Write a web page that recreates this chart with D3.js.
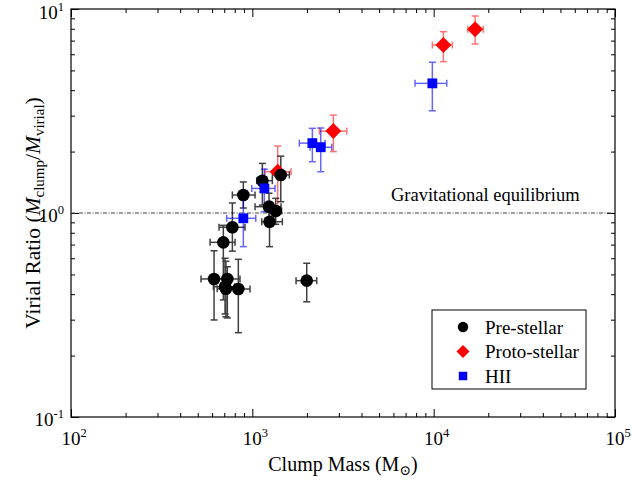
<!DOCTYPE html>
<html>
<head>
<meta charset="utf-8">
<script src="https://cdn.jsdelivr.net/npm/d3@7"></script>
<style>
  body { margin: 0; background: #fff; }
  svg text { font-family: 'Liberation Serif', 'DejaVu Serif', serif; fill: #000; }
</style>
</head>
<body>
<div id="my_dataviz"></div>
<script>

// data: clump mass (Msun) and virial ratio with error ranges
var preMass    = [1136, 892, 1236, 1346, 1244, 776, 692, 615, 728, 707, 715, 837, 1995, 1435];
var preMassLo  = [1057, 776, 1035, 1280, 1127, 655, 585, 521, 615, 610, 640, 753, 1742, 1290];
var preMassHi  = [1289, 1035, 1440, 1450, 1464, 911, 803, 725, 855, 800, 790, 971, 2265, 1600];
var preRatio   = [1.44, 1.225, 1.074, 1.023, 0.906, 0.851, 0.718, 0.475, 0.475, 0.435, 0.425, 0.424, 0.466, 1.536];
var preRatioLo = [1.094, 1.058, 0.92, 0.88, 0.684, 0.65, 0.375, 0.299, 0.306, 0.32, 0.31, 0.259, 0.367, 1.136];
var preRatioHi = [1.75, 1.42, 1.25, 1.18, 1.13, 1.12, 0.87, 0.653, 0.545, 0.60, 0.58, 0.593, 0.567, 1.90];

var protoMass    = [1380, 2797, 11312, 16920];
var protoMassLo  = [1175, 2342, 9835, 15420];
var protoMassHi  = [1635, 3317, 12680, 18800];
var protoRatio   = [1.594, 2.52, 6.66, 7.95];
var protoRatioLo = [1.03, 2.00, 5.52, 6.74];
var protoRatioHi = [2.13, 3.02, 7.74, 9.24];

var hiiMass    = [9835, 2143, 2384, 1165, 892];
var hiiMassLo  = [7895, 1816, 2081, 993, 722];
var hiiMassHi  = [11810, 2518, 2742, 1334, 1044];
var hiiRatio   = [4.32, 2.20, 2.10, 1.32, 0.942];
var hiiRatioLo = [3.17, 1.785, 1.594, 1.015, 0.684];
var hiiRatioHi = [5.48, 2.60, 2.61, 1.64, 1.19];

var xMajor = [100, 1000, 10000, 100000];
var yMajor = [0.1, 1, 10];
var xExp = ["2", "3", "4", "5"];
var yExp = ["-1", "0", "1"];
var legendNames = ["Pre-stellar", "Proto-stellar", "HII"];

var width = 632, height = 482;
var L = 71, R = 615, T = 9, B = 417;
var serif = "'Liberation Serif', 'DejaVu Serif', serif";

var svg = d3.select("#my_dataviz")
  .append("svg")
  .attr("width", width)
  .attr("height", height)
  .attr("font-family", serif)
  .style("font-family", serif);

var x = d3.scaleLog().domain([100, 100000]).range([L, R]);
var y = d3.scaleLog().domain([0.1, 10]).range([B, T]);

// minor ticks 2..9 in every decade
var xMinor = [], yMinor = [];
xMajor.slice(0, 3).forEach(function(d) { for (var k = 2; k < 10; k++) xMinor.push(d * k); });
yMajor.slice(0, 2).forEach(function(d) { for (var k = 2; k < 10; k++) yMinor.push(d * k); });

function drawAxis(axisFn, scale, vals, len, tr) {
  var g = svg.append("g")
    .attr("transform", tr)
    .call(axisFn(scale).tickValues(vals).tickSize(len).tickFormat(""));
  g.select(".domain").remove();
  g.selectAll("line").attr("stroke", "#000").attr("stroke-width", 1);
}

// inward ticks on all four sides
drawAxis(d3.axisBottom, x, xMajor, -8, "translate(0," + B + ")");
drawAxis(d3.axisBottom, x, xMinor, -4, "translate(0," + B + ")");
drawAxis(d3.axisTop, x, xMajor, -8, "translate(0," + T + ")");
drawAxis(d3.axisTop, x, xMinor, -4, "translate(0," + T + ")");
drawAxis(d3.axisLeft, y, yMajor, -8, "translate(" + L + ",0)");
drawAxis(d3.axisLeft, y, yMinor, -4, "translate(" + L + ",0)");
drawAxis(d3.axisRight, y, yMajor, -8, "translate(" + R + ",0)");
drawAxis(d3.axisRight, y, yMinor, -4, "translate(" + R + ",0)");

svg.append("rect")
  .attr("x", L).attr("y", T)
  .attr("width", R - L).attr("height", B - T)
  .attr("fill", "none").attr("stroke", "#000").attr("stroke-width", 1.2);

// tick labels 10^n
xMajor.forEach(function(d, i) {
  var t = svg.append("text")
    .attr("x", x(d) + 3).attr("y", 445)
    .attr("text-anchor", "middle")
    .style("font-size", "19px");
  t.append("tspan").text("10");
  t.append("tspan").attr("dy", -8).style("font-size", "12.5px").text(xExp[i]);
});
yMajor.forEach(function(d, i) {
  var t = svg.append("text")
    .attr("x", 64).attr("y", Math.max(y(d) + 9, 19))
    .attr("text-anchor", "end")
    .style("font-size", "19px");
  t.append("tspan").text("10");
  t.append("tspan").attr("dy", -8).style("font-size", "12.5px").text(yExp[i]);
});

// axis titles
var xt = svg.append("text")
  .attr("x", 343).attr("y", 471)
  .attr("text-anchor", "middle")
  .style("font-size", "20px");
xt.append("tspan").text("Clump Mass (M");
xt.append("tspan").attr("dy", 4).style("font-size", "14px").text("\u2299");
xt.append("tspan").attr("dy", -4).text(")");

var yt = svg.append("text")
  .attr("transform", "translate(40," + ((T + B) / 2) + ") rotate(-90)")
  .attr("text-anchor", "middle")
  .style("font-size", "21.5px");
yt.append("tspan").text("Virial Ratio (");
yt.append("tspan").style("font-style", "italic").text("M");
yt.append("tspan").attr("dy", 4).style("font-size", "15px").text("clump");
yt.append("tspan").attr("dy", -4).text("/");
yt.append("tspan").style("font-style", "italic").text("M");
yt.append("tspan").attr("dy", 4).style("font-size", "15px").text("virial");
yt.append("tspan").attr("dy", -4).text(")");

// equilibrium line
svg.append("line")
  .attr("x1", L).attr("x2", R)
  .attr("y1", y(1)).attr("y2", y(1))
  .attr("stroke", "#444").attr("stroke-width", 1)
  .attr("stroke-dasharray", "4,1.5,1,1.5");
svg.append("text")
  .attr("x", 391).attr("y", 201)
  .style("font-size", "18.5px")
  .text("Gravitational equilibrium");

function makeRows(m, mlo, mhi, r, rlo, rhi) {
  return m.map(function(d, i) {
    return {m: d, mlo: mlo[i], mhi: mhi[i], r: r[i], rlo: rlo[i], rhi: rhi[i]};
  });
}
var pre = makeRows(preMass, preMassLo, preMassHi, preRatio, preRatioLo, preRatioHi);
var proto = makeRows(protoMass, protoMassLo, protoMassHi, protoRatio, protoRatioLo, protoRatioHi);
var hii = makeRows(hiiMass, hiiMassLo, hiiMassHi, hiiRatio, hiiRatioLo, hiiRatioHi);

function errorBars(rows, color, op) {
  var g = svg.append("g")
    .attr("stroke", color).attr("stroke-width", 1.5).attr("opacity", op);
  var cap = 3.5;
  rows.forEach(function(d) {
    var cx = x(d.m), cy = y(d.r);
    g.append("line").attr("x1", x(d.mlo)).attr("x2", x(d.mhi)).attr("y1", cy).attr("y2", cy);
    g.append("line").attr("x1", cx).attr("x2", cx).attr("y1", y(d.rlo)).attr("y2", y(d.rhi));
    [d.mlo, d.mhi].forEach(function(v) {
      g.append("line").attr("x1", x(v)).attr("x2", x(v)).attr("y1", cy - cap).attr("y2", cy + cap);
    });
    [d.rlo, d.rhi].forEach(function(v) {
      g.append("line").attr("x1", cx - cap).attr("x2", cx + cap).attr("y1", y(v)).attr("y2", y(v));
    });
  });
}

var circle = d3.symbol().type(d3.symbolCircle).size(125);
var diamond = "M0,-8L8,0L0,8L-8,0Z";
var square = d3.symbol().type(d3.symbolSquare).size(96);

errorBars(proto, "#ff0000", 0.55);
errorBars(pre, "#000", 0.75);
errorBars(hii, "#0000ff", 0.6);

svg.append("g").selectAll("path").data(proto).enter().append("path")
  .attr("d", diamond)
  .attr("transform", function(d) { return "translate(" + x(d.m) + "," + y(d.r) + ")"; })
  .attr("fill", "#ff0000");
svg.append("g").selectAll("path").data(pre).enter().append("path")
  .attr("d", circle)
  .attr("transform", function(d) { return "translate(" + x(d.m) + "," + y(d.r) + ")"; })
  .attr("fill", "#000");
svg.append("g").selectAll("path").data(hii).enter().append("path")
  .attr("d", square)
  .attr("transform", function(d) { return "translate(" + x(d.m) + "," + y(d.r) + ")"; })
  .attr("fill", "#0000ff");

// legend
svg.append("rect")
  .attr("x", 432).attr("y", 310)
  .attr("width", 154).attr("height", 79)
  .attr("fill", "#fff").attr("stroke", "#000").attr("stroke-width", 1);
var legendShapes = [d3.symbol().type(d3.symbolCircle).size(85)(), "M0,-6.5L6.5,0L0,6.5L-6.5,0Z", d3.symbol().type(d3.symbolSquare).size(72)()];
var legendColors = ["#000", "#ff0000", "#0000ff"];
legendNames.forEach(function(n, i) {
  var ly = 327 + i * 24.5;
  svg.append("path")
    .attr("d", legendShapes[i])
    .attr("transform", "translate(463," + ly + ")")
    .attr("fill", legendColors[i]);
  svg.append("text")
    .attr("x", 485).attr("y", ly + 6.5)
    .style("font-size", "19px")
    .text(n);
});

</script>
</body>
</html>
